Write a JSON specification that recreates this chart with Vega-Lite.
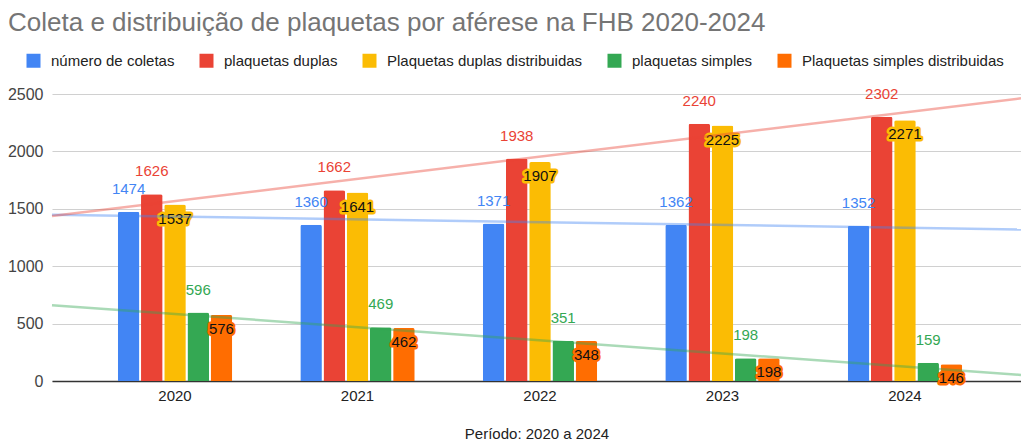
{
  "$schema": "https://vega.github.io/schema/vega-lite/v6.json",
  "width": 969,
  "height": 287,
  "autosize": {"type": "none"},
  "padding": {"left": 52, "top": 94, "right": 0, "bottom": 61},
  "background": "white",
  "config": {"font": "Liberation Sans", "view": {"stroke": null}},
  "title": {
    "text": "Coleta e distribuição de plaquetas por aférese na FHB 2020-2024",
    "anchor": "start",
    "frame": "group",
    "dx": -44,
    "offset": 17,
    "fontSize": 26,
    "fontWeight": "normal",
    "color": "#757575"
  },
  "data": {
    "values": [
      {"ano": 2020, "serie": "número de coletas", "valor": 1474},
      {"ano": 2020, "serie": "plaquetas duplas", "valor": 1626},
      {"ano": 2020, "serie": "Plaquetas duplas distribuidas", "valor": 1537},
      {"ano": 2020, "serie": "plaquetas simples", "valor": 596},
      {"ano": 2020, "serie": "Plaquetas simples distribuidas", "valor": 576},
      {"ano": 2021, "serie": "número de coletas", "valor": 1360},
      {"ano": 2021, "serie": "plaquetas duplas", "valor": 1662},
      {"ano": 2021, "serie": "Plaquetas duplas distribuidas", "valor": 1641},
      {"ano": 2021, "serie": "plaquetas simples", "valor": 469},
      {"ano": 2021, "serie": "Plaquetas simples distribuidas", "valor": 462},
      {"ano": 2022, "serie": "número de coletas", "valor": 1371},
      {"ano": 2022, "serie": "plaquetas duplas", "valor": 1938},
      {"ano": 2022, "serie": "Plaquetas duplas distribuidas", "valor": 1907},
      {"ano": 2022, "serie": "plaquetas simples", "valor": 351},
      {"ano": 2022, "serie": "Plaquetas simples distribuidas", "valor": 348},
      {"ano": 2023, "serie": "número de coletas", "valor": 1362},
      {"ano": 2023, "serie": "plaquetas duplas", "valor": 2240},
      {"ano": 2023, "serie": "Plaquetas duplas distribuidas", "valor": 2225},
      {"ano": 2023, "serie": "plaquetas simples", "valor": 198},
      {"ano": 2023, "serie": "Plaquetas simples distribuidas", "valor": 198},
      {"ano": 2024, "serie": "número de coletas", "valor": 1352},
      {"ano": 2024, "serie": "plaquetas duplas", "valor": 2302},
      {"ano": 2024, "serie": "Plaquetas duplas distribuidas", "valor": 2271},
      {"ano": 2024, "serie": "plaquetas simples", "valor": 159},
      {"ano": 2024, "serie": "Plaquetas simples distribuidas", "valor": 146}
    ]
  },
  "encoding": {
    "y": {
      "field": "valor",
      "type": "quantitative",
      "scale": {"domain": [0, 2500], "nice": false},
      "axis": {
        "title": null,
        "values": [0, 500, 1000, 1500, 2000, 2500],
        "format": "d",
        "ticks": false,
        "domain": false,
        "labelPadding": 9,
        "labelFontSize": 16,
        "labelColor": "#444444",
        "gridColor": "#d0d0d0",
        "gridWidth": 1.2
      }
    },
    "color": {
      "field": "serie",
      "type": "nominal",
      "scale": {
        "domain": ["número de coletas", "plaquetas duplas", "Plaquetas duplas distribuidas", "plaquetas simples", "Plaquetas simples distribuidas"],
        "range": ["#4285F4", "#EA4335", "#FBBC04", "#34A853", "#FF6D01"]
      },
      "legend": {
        "title": null,
        "orient": "none",
        "direction": "horizontal",
        "columns": 5,
        "legendX": -26,
        "legendY": -41,
        "symbolType": "square",
        "symbolSize": 196,
        "symbolStrokeWidth": 0,
        "symbolOpacity": 1,
        "labelFontSize": 15,
        "labelColor": "#222222",
        "labelOffset": 10,
        "columnPadding": 24,
        "labelLimit": 400
      }
    }
  },
  "layer": [
    {
      "encoding": {
        "x": {
          "field": "ano",
          "type": "ordinal",
          "scale": {"paddingInner": 0.373, "paddingOuter": 0.3415, "align": 0.528},
          "axis": {
            "title": "Período: 2020 a 2024",
            "titleFontSize": 15,
            "titleFontWeight": "normal",
            "titleColor": "#222222",
            "titlePadding": 23,
            "labelAngle": 0,
            "labelFontSize": 15,
            "labelColor": "#222222",
            "labelPadding": 7,
            "ticks": false,
            "domainColor": "#333333",
            "domainWidth": 1.5
          }
        },
        "xOffset": {
          "field": "serie",
          "type": "nominal",
          "sort": ["número de coletas", "plaquetas duplas", "Plaquetas duplas distribuidas", "plaquetas simples", "Plaquetas simples distribuidas"],
          "scale": {"paddingInner": 0.07, "paddingOuter": 0}
        }
      },
      "layer": [
        {
          "mark": {"type": "bar", "cornerRadiusTopLeft": 2, "cornerRadiusTopRight": 2}
        },
        {
          "transform": [
            {"filter": {"field": "serie", "oneOf": ["número de coletas", "plaquetas duplas", "plaquetas simples"]}}
          ],
          "mark": {"type": "text", "fontSize": 15, "dy": -23, "baseline": "middle"},
          "encoding": {
            "text": {"field": "valor", "type": "quantitative", "format": "d"}
          }
        },
        {
          "transform": [
            {"filter": {"field": "serie", "oneOf": ["Plaquetas duplas distribuidas", "Plaquetas simples distribuidas"]}}
          ],
          "mark": {"type": "text", "fontSize": 15, "dy": 14, "baseline": "middle", "strokeWidth": 5, "strokeJoin": "round"},
          "encoding": {
            "text": {"field": "valor", "type": "quantitative", "format": "d"},
            "stroke": {
              "field": "serie",
              "type": "nominal",
              "scale": {
                "domain": ["número de coletas", "plaquetas duplas", "Plaquetas duplas distribuidas", "plaquetas simples", "Plaquetas simples distribuidas"],
                "range": ["#4285F4", "#EA4335", "#FBBC04", "#34A853", "#FF6D01"]
              },
              "legend": null
            }
          }
        },
        {
          "transform": [
            {"filter": {"field": "serie", "oneOf": ["Plaquetas duplas distribuidas", "Plaquetas simples distribuidas"]}}
          ],
          "mark": {"type": "text", "fontSize": 15, "dy": 14, "baseline": "middle", "color": "#111111"},
          "encoding": {
            "text": {"field": "valor", "type": "quantitative", "format": "d"},
            "color": {"value": "#111111"}
          }
        }
      ]
    },
    {
      "transform": [
        {"filter": {"field": "serie", "oneOf": ["número de coletas", "plaquetas duplas", "plaquetas simples"]}},
        {"regression": "valor", "on": "ano", "groupby": ["serie"], "extent": [2019.326, 2024.636]}
      ],
      "mark": {"type": "line", "strokeWidth": 2.5, "opacity": 0.42},
      "encoding": {
        "x": {
          "field": "ano",
          "type": "quantitative",
          "scale": {"domain": [2019.326, 2024.636], "nice": false, "zero": false},
          "axis": null
        }
      }
    }
  ],
  "resolve": {"scale": {"x": "independent"}}
}
